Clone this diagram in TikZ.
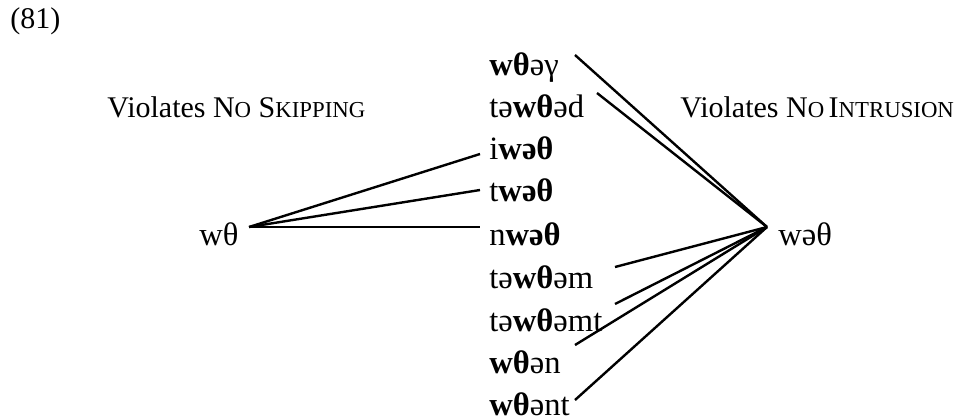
\documentclass[tikz,border=0pt]{standalone}
\usepackage{fontspec}
\setmainfont{Liberation Serif}
% fake small capitals (the font has no smcp feature)
\newcommand\fakesc[1]{{\fontsize{11.4pt}{14pt}\selectfont #1}}
\newcommand\bw[1]{\textbf{#1}}
\begin{document}
\begin{tikzpicture}[x=0.5pt,y=-0.5pt,
  every node/.style={inner sep=0pt, anchor=base west,
                     font=\fontsize{15pt}{18pt}\selectfont},
  form/.style={font=\fontsize{16.3pt}{19pt}\selectfont},
  link/.style={line width=1.2pt}]
\useasboundingbox (0,0) rectangle (962,419);

\node (num) at (10,28) {(81)};
\node (skip) at (107,117) {Violates N\fakesc{O} S\fakesc{KIPPING}};
\node (intr) at (680,117) {Violates N\fakesc{O}\hspace{0.15em}I\fakesc{NTRUSION}};

\node[form] (src) at (199,245) {wθ};
\node[form] (tgt) at (778,245) {wəθ};

% candidate column
\node[form] (w1) at (489,75)  {\bw{wθ}əγ};
\node[form] (w2) at (489,117) {tə\bw{wθ}əd};
\node[form] (w3) at (489,159) {i\bw{wəθ}};
\node[form] (w4) at (489,201) {t\bw{wəθ}};
\node[form] (w5) at (489,245) {n\bw{wəθ}};
\node[form] (w6) at (489,288) {tə\bw{wθ}əm};
\node[form] (w7) at (489,331) {tə\bw{wθ}əmt};
\node[form] (w8) at (489,373) {\bw{wθ}ən};
\node[form] (w9) at (489,415) {\bw{wθ}ənt};

% hubs of the two fans
\coordinate (hubL) at ([shift={(50,-18)}]src.base west);
\coordinate (hubR) at ([shift={(-11,-18)}]tgt.base west);

% left fan
\draw[link] (hubL) -- ([shift={(-9,-5)}]w3.base west);
\draw[link] (hubL) -- ([shift={(-9,-11)}]w4.base west);
\draw[link] (hubL) -- ([shift={(-9,-18)}]w5.base west);

% right fan
\draw[link] (hubR) -- ([shift={(86,-20)}]w1.base west);
\draw[link] (hubR) -- ([shift={(108,-24)}]w2.base west);
\draw[link] (hubR) -- ([shift={(126,-21)}]w6.base west);
\draw[link] (hubR) -- ([shift={(126,-27)}]w7.base west);
\draw[link] (hubR) -- ([shift={(86,-28)}]w8.base west);
\draw[link] (hubR) -- ([shift={(86,-15)}]w9.base west);
\end{tikzpicture}
\end{document}
